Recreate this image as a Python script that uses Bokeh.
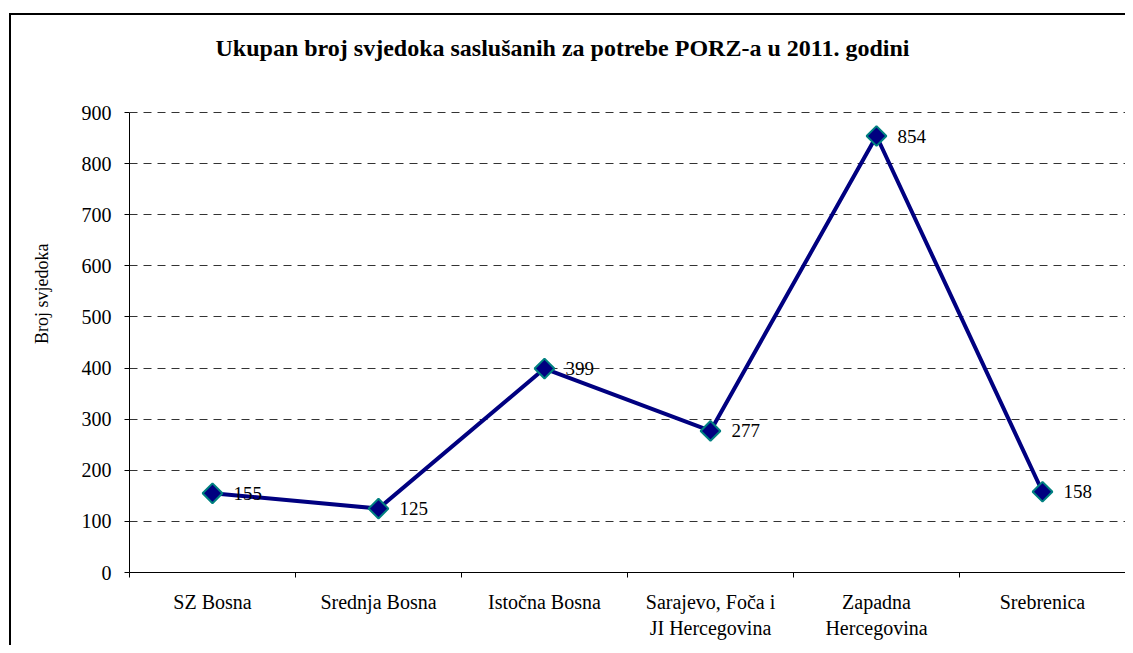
from bokeh.plotting import figure
from bokeh.models import (FixedTicker, Title, Label, ColumnDataSource, Range1d, LabelSet,
                          InlineStyleSheet)
from bokeh.embed import file_html
from bokeh.resources import INLINE
import math

categories = ["SZ Bosna", "Srednja Bosna", "Istočna Bosna",
              "Sarajevo, Foča i\nJI Hercegovina", "Zapadna\nHercegovina", "Srebrenica"]
values = [155, 125, 399, 277, 854, 158]
y_ticks = [0, 100, 200, 300, 400, 500, 600, 700, 800, 900]
title_text = "Ukupan broj svjedoka saslušanih za potrebe PORZ-a u 2011. godini"
y_label = "Broj svjedoka"

FONT = "Liberation Serif"

# layout (pixels)
W, H = 1125, 645
FRAME_L, FRAME_R, FRAME_T, FRAME_B = 129, 1125, 12, 572
AXIS_TOP_PX = 112            # where the 900 line sits
y_max = y_ticks[-1]
y_top = y_max * (FRAME_B - FRAME_T) / (FRAME_B - AXIS_TOP_PX)

xs = [i + 0.5 for i in range(len(categories))]
src = ColumnDataSource(dict(x=xs, y=values, lbl=[str(v) for v in values]))

p = figure(width=W, height=H, output_backend="svg", toolbar_location=None,
           x_range=Range1d(0, len(categories)), y_range=Range1d(0, y_top),
           min_border_left=FRAME_L, min_border_right=W - FRAME_R,
           min_border_top=FRAME_T, min_border_bottom=H - FRAME_B)
p.title.visible = False
p.outline_line_color = None
p.background_fill_color = "white"
p.border_fill_color = "white"
p.stylesheets = [InlineStyleSheet(css="""
:host { overflow: hidden; }
:host::after { content: ''; position: absolute; left: 9px; top: 13px;
  right: 0; bottom: 0; border-top: 2px solid black; border-left: 2px solid black;
  pointer-events: none; }
""")]

# chart title (inside the frame area, frame-relative screen units)
p.add_layout(Label(x=562 - FRAME_L, y=FRAME_B - 47, x_units="screen", y_units="screen",
                   text=title_text, text_align="center", text_baseline="middle",
                   text_font=FONT, text_font_size="24px", text_font_style="bold",
                   text_color="black"))

# y axis title as a side title
p.add_layout(Title(text=y_label, align="right", offset=231, standoff=54,
                   text_font=FONT, text_font_size="18px", text_font_style="normal",
                   text_color="black"), "left")

# grid
p.xgrid.grid_line_color = None
p.ygrid.grid_line_color = "#333333"
p.ygrid.grid_line_dash = "8 6"
p.ygrid.grid_line_width = 1

# y axis
p.yaxis.ticker = FixedTicker(ticks=y_ticks)
p.yaxis.bounds = (0, y_max)
p.yaxis.axis_line_color = "black"
p.yaxis.major_tick_line_color = "black"
p.yaxis.major_tick_out = 5
p.yaxis.major_tick_in = 0
p.yaxis.minor_tick_line_color = None
p.yaxis.major_label_text_font = FONT
p.yaxis.major_label_text_font_size = "20px"
p.yaxis.major_label_text_color = "black"
p.yaxis.major_label_standoff = 13

# x axis
p.xaxis.ticker = FixedTicker(ticks=xs, minor_ticks=list(range(len(categories) + 1)))
p.xaxis.major_label_overrides = {x: c for x, c in zip(xs, categories)}
p.xaxis.axis_line_color = "black"
p.xaxis.major_tick_line_color = None
p.xaxis.minor_tick_line_color = "black"
p.xaxis.minor_tick_out = 5
p.xaxis.minor_tick_in = 0
p.xaxis.major_label_text_font = FONT
p.xaxis.major_label_text_font_size = "20px"
p.xaxis.major_label_text_color = "black"
p.xaxis.major_label_standoff = 12

# data
p.line("x", "y", source=src, line_color="#000080", line_width=4)
p.scatter("x", "y", source=src, marker="square", angle=math.pi / 4, size=14,
          fill_color="#000080", line_color="#008080", line_width=2)
labels = LabelSet(x="x", y="y", text="lbl", source=src, x_offset=21, y_offset=0,
                  text_baseline="middle", text_align="left",
                  text_font=FONT, text_font_size="19px", text_color="black")
p.add_layout(labels)

open("out.html", "w").write(file_html(p, INLINE))
